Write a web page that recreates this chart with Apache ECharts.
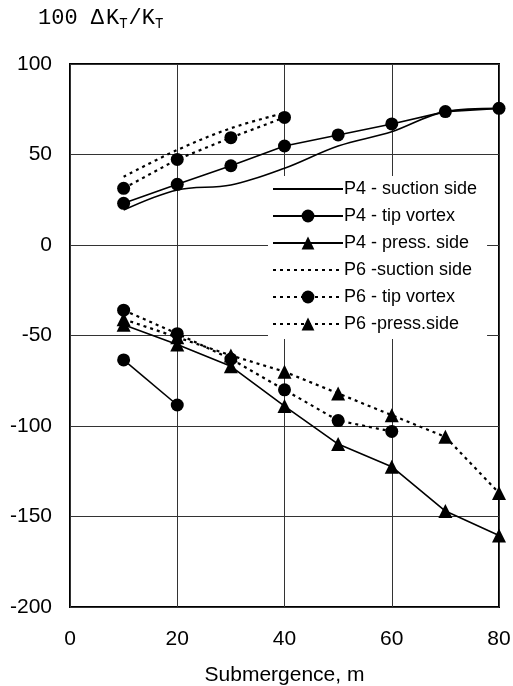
<!DOCTYPE html>
<html>
<head>
<meta charset="utf-8">
<script src="https://cdn.jsdelivr.net/npm/echarts@6/dist/echarts.min.js"></script>
<style>
  html, body { margin: 0; padding: 0; background: #fff; }
  #chart { width: 513px; height: 686px; }
</style>
</head>
<body>
<div id="chart"></div>
<script>
// submergence values, m
const depths = [10, 20, 30, 40, 50, 60, 70, 80]
const xTicks = [0, 20, 40, 60, 80]
const yTicks = [-200, -150, -100, -50, 0, 50, 100]

// 100 dKt/Kt
const p4Suction = [19.3, 30.4, 33.1, 42.4, 54.7, 62.6, 73.7, 75.5]
const p4Tip = [23, 33.5, 43.8, 54.7, 60.8, 66.9, 73.7, 75.5]
const p4TipLow = [-63.5, -88.4]
const p4Press = [-44, -55, -67, -89, -110, -122.5, -147, -160.5]
const p6Suction = [37.7, 52.5, 64.5, 73]
const p6Tip = [31.3, 47.3, 59.3, 70.5]
const p6TipLow = [-36, -49, -63, -80, -97, -103]
const p6Press = [-41, -51, -61, -70, -82, -94, -106, -137]

const names = [
  'P4 - suction side',
  'P4 - tip vortex',
  'P4 - press. side',
  'P6 -suction side',
  'P6 - tip vortex',
  'P6 -press.side'
]

function pairs(vals) {
  return vals.map((v, i) => [depths[i], v])
}

const solid = { color: '#000', width: 1.6, type: 'solid' }
const dotted = { color: '#000', width: 2.2, type: [3, 4] }

function line(name, vals, style, symbol, smooth) {
  return {
    name: name,
    type: 'line',
    data: pairs(vals),
    smooth: smooth ? 0.35 : false,
    symbol: symbol || 'none',
    symbolSize: symbol === 'triangle' ? 14 : 13,
    showSymbol: !!symbol,
    itemStyle: { color: '#000' },
    lineStyle: style,
    animation: false,
    z: 3
  }
}

// no marker in the legend for the plain curves
const legendItems = names.map(n => n.indexOf('suction') >= 0
  ? { name: n, itemStyle: { opacity: 0 } }
  : { name: n })

const mono = 'Liberation Mono'

const chart = echarts.init(document.getElementById('chart'))
chart.setOption({
  backgroundColor: '#fff',
  title: {
    text: '{m|100 }{d|Δ}{k|K}{s|T}{m|/}{k|K}{s|T}',
    left: 33,
    top: 1,
    textStyle: {
      fontFamily: mono,
      fontSize: 22,
      fontWeight: 'normal',
      color: '#000',
      rich: {
        m: { fontFamily: mono, fontSize: 22, color: '#000' },
        d: { fontFamily: mono, fontSize: 22, color: '#000', padding: [0, 2, 0, 0] },
        k: { fontFamily: mono, fontSize: 22, color: '#000' },
        s: { fontFamily: mono, fontSize: 14, color: '#000', padding: [11, 1, 0, 0] }
      }
    }
  },
  grid: {
    left: 70,
    right: 14,
    top: 64,
    bottom: 79,
    outerBoundsMode: 'none',
    show: true,
    borderColor: '#000',
    borderWidth: 2
  },
  legend: {
    data: legendItems,
    orient: 'vertical',
    left: 268,
    top: 176,
    itemWidth: 70,
    itemHeight: 16,
    itemGap: 9,
    padding: [4, 10, 6, 4],
    backgroundColor: '#fff',
    textStyle: { fontFamily: 'Liberation Sans', fontSize: 18, color: '#000', padding: [0, 0, 0, -4] },
    z: 10
  },
  xAxis: {
    type: 'value',
    min: 0,
    max: 80,
    interval: 20,
    name: 'Submergence, m',
    nameLocation: 'middle',
    nameGap: 58,
    nameTextStyle: { fontFamily: 'Liberation Sans', fontSize: 21, color: '#000' },
    axisLine: { show: false },
    axisTick: { show: false },
    axisLabel: { fontFamily: 'Liberation Sans', fontSize: 21, color: '#000', margin: 22,
      formatter: v => xTicks.includes(v) ? String(v) : '' },
    splitLine: { show: true, lineStyle: { color: '#333', width: 1 } }
  },
  yAxis: {
    type: 'value',
    min: -200,
    max: 100,
    interval: 50,
    axisLine: { show: false },
    axisTick: { show: false },
    axisLabel: { fontFamily: 'Liberation Sans', fontSize: 21, color: '#000', margin: 18,
      formatter: v => yTicks.includes(v) ? String(v) : '' },
    splitLine: { show: true, lineStyle: { color: '#333', width: 1 } }
  },
  series: [
    line(names[0], p4Suction, solid, null, true),
    line(names[1], p4Tip, solid, 'circle'),
    line(names[1], p4TipLow, solid, 'circle'),
    line(names[2], p4Press, solid, 'triangle'),
    line(names[3], p6Suction, dotted, null, true),
    line(names[4], p6Tip, dotted, 'circle'),
    line(names[4], p6TipLow, dotted, 'circle'),
    line(names[5], p6Press, dotted, 'triangle')
  ]
})
</script>
</body>
</html>
